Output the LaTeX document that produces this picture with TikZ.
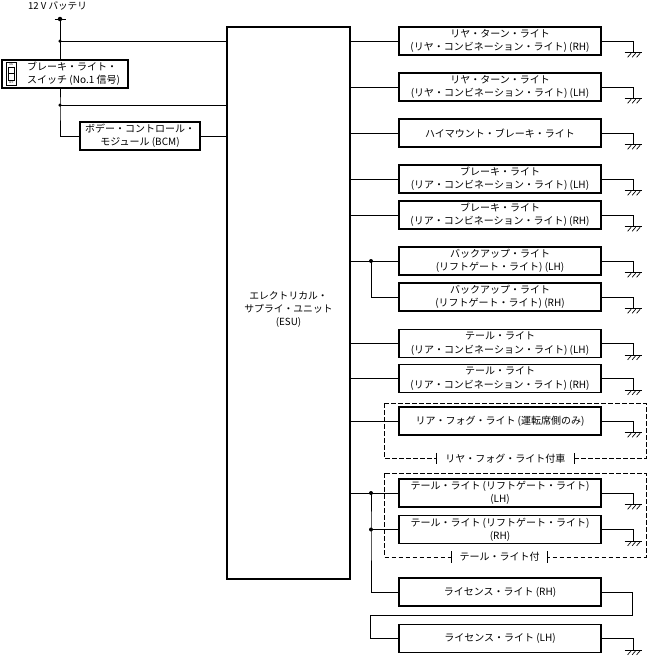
\documentclass[tikz,border=0pt]{standalone}
\usepackage{fontspec}
\setmainfont{Noto Sans CJK JP}
\begin{document}
\begin{tikzpicture}[x=1pt,y=-1pt,
  wire/.style={line width=0.9pt},
  txt/.style={font=\fontsize{10}{13.3}\selectfont},
  esutxt/.style={font=\fontsize{9.8}{12.7}\selectfont},
  lamp/.style={draw,line width=1.2pt,minimum width=202pt,minimum height=28pt,inner sep=0pt,align=center,txt},
  box/.style={draw,line width=1.2pt,inner sep=0pt,align=center,txt},
  jdot/.style={circle,fill,inner sep=0pt,minimum size=4pt},
  grp/.style={dashed,dash pattern=on 4.5pt off 2.5pt,line width=0.8pt},
  grplbl/.style={fill=white,inner sep=0pt,minimum height=11pt,txt},
  gnd/.pic={\draw[line width=0.9pt] (-9,0) -- (8,0);
    \foreach \i in {-2.5,2,6.5}{\draw[line width=0.7pt] (\i,0.8) -- ++(-3.5,4);}}
]
\useasboundingbox (0,0) rectangle (647,656);

% battery and switch
\node[font=\fontsize{9.6}{12}\selectfont] (batt) at (57.5,6) {12 V バッテリ};
\node[jdot,minimum size=4.5pt] (bat) at (60,19) {};
\draw[wire] ([xshift=-5.5pt]bat.center) -- ([xshift=5.5pt]bat.center);
\node[box,minimum width=126pt,minimum height=28pt] (sw) at (65,74) {};
\node[txt,anchor=west,align=left,inner sep=0pt] (swt) at (27,74) {ブレーキ・ライト・\\スイッチ (No.1 信号)};
% switch icon
\draw[line width=0.7pt] (6,62.5) rectangle (16.5,85);
\draw[line width=0.6pt] (8.5,67) rectangle (14,80.5);
\draw[line width=0.6pt] (8.5,73) -- (14,73);
\node[font=\fontsize{2.5}{3}\selectfont,inner sep=0pt] (swon) at (11.2,64.6) {ON};
\node[font=\fontsize{2.5}{3}\selectfont,inner sep=0pt] (swoff) at (11.2,83) {OFF};

\node[box,minimum width=120pt,minimum height=28pt] (bcm) at (140,136) {ボデー・コントロール・\\モジュール (BCM)};

% ESU
\node[draw,line width=1.2pt,minimum width=123pt,minimum height=552pt,inner sep=0pt] (esu) at (288.5,303) {};
\node[esutxt,align=center,inner sep=0pt] (esut) at (288.5,309.5) {エレクトリカル・\\サプライ・ユニット\\(ESU)};

\coordinate (j1) at (60,41);
\coordinate (j2) at (60,105);
\node[jdot,minimum size=3.5pt] (d1) at (j1) {};
\node[jdot,minimum size=3.5pt] (d2) at (j2) {};
\draw[wire] (bat.center) -- (bat.center |- sw.north);
\draw[wire] (j1) -- (esu.west |- j1);
\draw[wire] (sw.south -| j2) -- (j2) |- (bcm.west);
\draw[wire] (j2) -- (esu.west |- j2);
\draw[wire] (bcm.east) -- (esu.west |- bcm.east);

% lamps
\node[lamp] (rt1) at (500,41) {リヤ・ターン・ライト\\(リヤ・コンビネーション・ライト) (RH)};
\node[lamp] (rt2) at (500,87) {リヤ・ターン・ライト\\(リヤ・コンビネーション・ライト) (LH)};
\node[lamp] (hm) at (500,133) {ハイマウント・ブレーキ・ライト};
\node[lamp] (br1) at (500,179) {ブレーキ・ライト\\(リア・コンビネーション・ライト) (LH)};
\node[lamp] (br2) at (500,215) {ブレーキ・ライト\\(リア・コンビネーション・ライト) (RH)};
\node[lamp] (bu1) at (500,261) {バックアップ・ライト\\(リフトゲート・ライト) (LH)};
\node[lamp] (bu2) at (500,297) {バックアップ・ライト\\(リフトゲート・ライト) (RH)};
\node[lamp] (tl1) at (500,343.5) {テール・ライト\\(リア・コンビネーション・ライト) (LH)};
\node[lamp] (tl2) at (500,378.5) {テール・ライト\\(リア・コンビネーション・ライト) (RH)};
\node[lamp] (fog) at (500,421) {リア・フォグ・ライト (運転席側のみ)};
\node[lamp] (tg1) at (500,493) {テール・ライト (リフトゲート・ライト)\\(LH)};
\node[lamp] (tg2) at (500,529.5) {テール・ライト (リフトゲート・ライト)\\(RH)};
\node[lamp] (lc1) at (500,592) {ライセンス・ライト (RH)};
\node[lamp] (lc2) at (500,638.5) {ライセンス・ライト (LH)};

% feeds from ESU
\foreach \b in {rt1,rt2,hm,br1,br2,bu1,tl1,tl2,fog,tg1}{
  \draw[wire] (esu.east |- \b.west) -- (\b.west);
}
% grounds
\foreach \b in {rt1,rt2,hm,br1,br2,bu1,bu2,tl1,tl2,fog,tg1,tg2,lc2}{
  \draw[wire] (\b.east) -- ++(32,0) -- ++(0,11.5) pic {gnd};
}

% backup junction
\node[jdot] (jb) at (371,261) {};
\draw[wire] (jb.center) |- (bu2.west);

% tail (liftgate) junctions
\node[jdot] (jt1) at (371,493) {};
\node[jdot] (jt2) at (371,529.5) {};
\draw[wire] (jt1.center) -- (jt2.center) -- (jt2.center |- lc1.west) -- (lc1.west);
\draw[wire] (jt2.center) -- (tg2.west);

% license lights in series
\coordinate (lr) at (632.5,615);
\coordinate (ll) at (370.5,615);
\draw[wire] (lc1.east) -| (lr) -- (ll) |- (lc2.west);

% option groups
\draw[grp] (384.5,403) rectangle (646,458.5);
\node[grplbl,minimum width=137pt] (g1) at (505.4,458.5) {リヤ・フォグ・ライト付車};
\draw[line width=0.6pt] (g1.north west) -- (g1.south west);
\draw[line width=0.6pt] (g1.north east) -- (g1.south east);

\draw[grp] (384.5,473) rectangle (646,557);
\node[grplbl,minimum width=96pt] (g2) at (499.5,557) {テール・ライト付};
\draw[line width=0.6pt] (g2.north west) -- (g2.south west);
\draw[line width=0.6pt] (g2.north east) -- (g2.south east);
\end{tikzpicture}
\end{document}
